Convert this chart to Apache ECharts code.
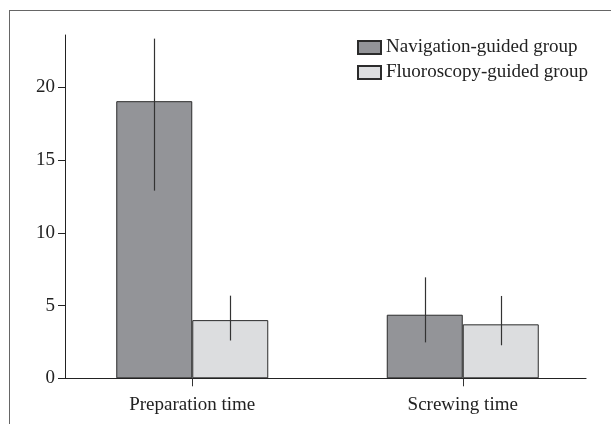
<!DOCTYPE html>
<html>
<head>
<meta charset="utf-8">
<script src="https://cdn.jsdelivr.net/npm/echarts@6/dist/echarts.min.js"></script>
<style>
html, body { margin: 0; padding: 0; background: #fff; }
#main { width: 611px; height: 424px; }
</style>
</head>
<body>
<div id="main"></div>
<script>
var categories = ['Preparation time', 'Screwing time'];
var seriesNames = ['Navigation-guided group', 'Fluoroscopy-guided group'];
var navMean = [19.05, 4.37];
var navLow = [12.9, 2.47];
var navHigh = [23.35, 6.94];
var fluMean = [4.0, 3.71];
var fluLow = [2.6, 2.27];
var fluHigh = [5.68, 5.66];
var yTicks = [0, 5, 10, 15, 20];

var FONT = '"Liberation Serif", "DejaVu Serif", serif';
var BAR_W = 76;

var chart = echarts.init(document.getElementById('main'));

// error bar as a plain vertical line in the middle of each bar
function errorSeries(low, high, shift) {
    var data = [];
    for (var i = 0; i < low.length; i++) data.push([i, low[i], high[i]]);
    return {
        type: 'custom',
        xAxisIndex: 0,
        yAxisIndex: 0,
        z: 5,
        silent: true,
        renderItem: function (params, api) {
            var lo = api.coord([api.value(0), api.value(1)]);
            var hi = api.coord([api.value(0), api.value(2)]);
            var x = Math.round(lo[0] + shift * BAR_W / 2) + 0.5;
            return {
                type: 'line',
                shape: { x1: x, y1: lo[1], x2: x, y2: hi[1] },
                style: { stroke: '#333', lineWidth: 1.2 }
            };
        },
        data: data
    };
}

chart.setOption({
    animation: false,
    backgroundColor: '#fff',
    textStyle: { fontFamily: FONT },
    graphic: [
        { type: 'line', shape: { x1: 9, y1: 10.5, x2: 611, y2: 10.5 }, style: { stroke: '#666', lineWidth: 1 } },
        { type: 'line', shape: { x1: 9.5, y1: 10, x2: 9.5, y2: 424 }, style: { stroke: '#666', lineWidth: 1 } }
    ],
    legend: {
        data: seriesNames,
        orient: 'vertical',
        left: 357,
        top: 38,
        padding: 0,
        itemWidth: 23,
        itemHeight: 13,
        itemGap: 6,
        icon: 'rect',
        textStyle: { fontFamily: FONT, fontSize: 19, color: '#222' }
    },
    grid: [
        { left: 57, right: 13, top: 35, bottom: 45.7 },
        { left: 65, right: 25, top: 35, bottom: 45.7 }
    ],
    xAxis: [
        {
            type: 'category',
            gridIndex: 0,
            data: categories,
            boundaryGap: true,
            axisLine: { show: false },
            axisTick: { show: true, alignWithLabel: true, length: 8, lineStyle: { color: '#333', width: 1 } },
            axisLabel: { fontFamily: FONT, fontSize: 19, color: '#222', margin: 17 }
        },
        {
            type: 'value',
            gridIndex: 1,
            min: 0,
            max: 1,
            axisLine: { show: true, lineStyle: { color: '#222', width: 1.2 } },
            axisTick: { show: false },
            axisLabel: { show: false },
            splitLine: { show: false }
        }
    ],
    yAxis: [
        {
            type: 'value',
            gridIndex: 0,
            min: 0,
            max: 23.6,
            interval: 5,
            show: false,
            splitLine: { show: false }
        },
        {
            type: 'value',
            gridIndex: 1,
            min: 0,
            max: 23.6,
            interval: 5,
            axisLine: { show: true, lineStyle: { color: '#222', width: 1 } },
            axisTick: { show: true, length: 7, customValues: yTicks, lineStyle: { color: '#222' } },
            axisLabel: {
                fontFamily: FONT, fontSize: 19, color: '#222', margin: 10,
                customValues: yTicks
            },
            splitLine: { show: false }
        }
    ],
    series: [
        {
            name: seriesNames[0],
            type: 'bar',
            xAxisIndex: 0,
            yAxisIndex: 0,
            barWidth: BAR_W,
            barGap: 0,
            itemStyle: { color: '#939498', borderColor: '#2b2b2b', borderWidth: 1 },
            data: navMean
        },
        {
            name: seriesNames[1],
            type: 'bar',
            xAxisIndex: 0,
            yAxisIndex: 0,
            barWidth: BAR_W,
            barGap: 0,
            itemStyle: { color: '#dcdddf', borderColor: '#2b2b2b', borderWidth: 1 },
            data: fluMean
        },
        errorSeries(navLow, navHigh, -1),
        errorSeries(fluLow, fluHigh, 1)
    ]
});
</script>
</body>
</html>
